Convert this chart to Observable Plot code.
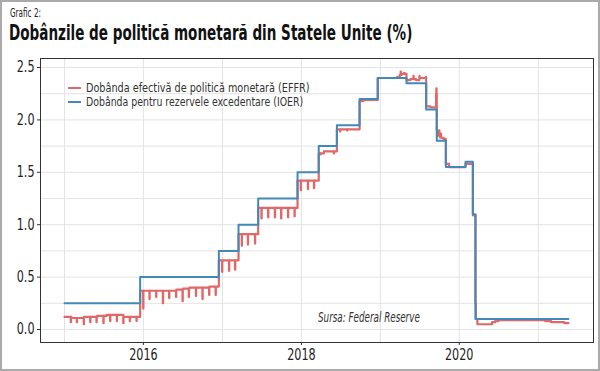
<!DOCTYPE html>
<html>
<head>
<meta charset="utf-8">
<script src="https://cdn.jsdelivr.net/npm/d3@7"></script>
<script src="https://cdn.jsdelivr.net/npm/@observablehq/plot@0.6"></script>
<style>
  body { margin: 0; background: #fff; }
  #wrap { position: relative; width: 600px; height: 371px; background: #fff; overflow: hidden;
    font-family: "DejaVu Sans Condensed", "DejaVu Sans", sans-serif; color: #222; }
  .abs { position: absolute; white-space: nowrap; transform-origin: 0 0; }
  #frame { position: absolute; left: 0; top: 0; width: 600px; height: 371px; box-sizing: border-box;
    border: 2px solid #aaa; pointer-events: none; }
  .sw { position: absolute; left: 68px; width: 13px; height: 2px; }
  .lg { font-size: 12px; line-height: 14px; height: 14px; color: #333; left: 86px; }
</style>
</head>
<body>
<div id="wrap">
  <div id="sup" class="abs" style="left:10px;top:5px;font-size:13px;line-height:16px;" data-w="31">Grafic 2:</div>
  <div id="title" class="abs" style="left:9px;top:21px;font-size:21px;line-height:25px;font-weight:bold;color:#111;" data-w="403">Dobânzile de politică monetară din Statele Unite (%)</div>
  <div id="chart" class="abs" style="left:0;top:50px;"></div>
  <div id="legend"></div>
  <div id="src" class="abs" style="left:318px;top:309px;font-size:13.7px;line-height:16px;font-style:italic;color:#333;" data-w="102">Sursa: Federal Reserve</div>
  <div id="frame"></div>
</div>
<script>
// ---- Data ----
const seriesNames = ["Dobânda efectivă de politică monetară (EFFR)", "Dobânda pentru rezervele excedentare (IOER)"];
const seriesColors = ["#e06868", "#4189b8"];

// IOER: date of change and new level
const ioerDates = ["2015-01-01","2015-12-17","2016-12-15","2017-03-16","2017-06-15","2017-12-14","2018-03-22","2018-06-14","2018-09-27","2018-12-20","2019-05-02","2019-08-01","2019-09-19","2019-10-31","2020-01-30","2020-03-04","2020-03-16","2021-05-20"];
const ioerValues = [0.25,0.50,0.75,1.00,1.25,1.50,1.75,1.95,2.20,2.40,2.35,2.10,1.80,1.55,1.60,1.10,0.10,0.10];

// EFFR: typical levels (start date, level)
const effrLevelDates = ["2015-01-01","2015-02-01","2015-04-01","2015-06-01","2015-07-15","2015-10-01","2015-12-17","2016-06-01","2016-07-01","2016-08-01","2016-11-01","2016-12-15","2017-03-16","2017-06-15","2017-12-14","2018-03-22","2018-04-15","2018-06-14","2018-09-27","2018-10-15","2018-12-20","2019-03-20","2019-04-01","2019-04-10","2019-05-02","2019-05-20","2019-06-15","2019-07-01","2019-08-01","2019-08-20","2019-09-19","2019-09-24","2019-10-05","2019-10-20","2019-10-31","2019-11-15","2020-01-30","2020-03-04","2020-03-16","2020-03-18","2020-03-25","2020-06-01","2020-06-15","2020-07-01","2021-02-01","2021-03-01","2021-05-01","2021-05-20"];
const effrLevels = [0.12,0.11,0.12,0.13,0.14,0.12,0.37,0.38,0.39,0.40,0.41,0.66,0.91,1.16,1.42,1.68,1.70,1.91,2.18,2.19,2.40,2.41,2.43,2.44,2.38,2.39,2.38,2.40,2.13,2.12,1.90,1.85,1.83,1.82,1.58,1.55,1.58,1.09,0.25,0.10,0.05,0.07,0.08,0.09,0.08,0.07,0.06,0.06];

// EFFR: one-day month-end dips / spikes (date, value)
const effrSpikeDates = ["2015-01-30","2015-02-27","2015-03-31","2015-04-30","2015-05-29","2015-06-30","2015-07-31","2015-08-31","2015-09-30","2015-10-30","2015-11-30","2015-12-31",
  "2016-01-29","2016-02-29","2016-03-31","2016-04-29","2016-05-31","2016-06-30","2016-07-29","2016-08-31","2016-09-30","2016-10-31","2016-11-30","2016-12-30",
  "2017-01-31","2017-02-28","2017-03-31","2017-04-28","2017-05-31","2017-06-30","2017-07-31","2017-08-31","2017-09-29","2017-10-31","2017-11-30","2017-12-29",
  "2018-01-31","2018-02-28","2018-03-29","2018-05-31","2018-06-29","2018-07-31",
  "2019-04-05","2019-04-22","2019-06-03","2019-07-01","2019-07-31","2019-09-16","2019-09-17","2019-09-18","2019-09-30","2019-10-01","2019-10-08"];
const effrSpikeValues = [0.07,0.07,0.05,0.07,0.07,0.06,0.08,0.08,0.06,0.08,0.08,0.20,
  0.29,0.31,0.25,0.30,0.31,0.27,0.31,0.32,0.29,0.33,0.33,0.55,
  0.56,0.57,0.80,0.81,0.82,1.06,1.07,1.07,1.06,1.07,1.08,1.33,
  1.34,1.35,1.67,1.68,1.89,1.90,
  2.46,2.45,2.42,2.42,2.41,2.25,2.30,2.25,1.90,1.88,1.87];

// Axis ticks and grid
const xTickLabels = ["2016","2018","2020"];
const xGridYears = ["2015","2016","2017","2018","2019","2020","2021"];
const yTickLabels = [0, 0.5, 1.0, 1.5, 2.0, 2.5];
const yGridValues = [0, 0.25, 0.5, 0.75, 1.0, 1.25, 1.5, 1.75, 2.0, 2.25, 2.5];

// ---- Build tables ----
const parse = d3.utcParse("%Y-%m-%d");
const ioer = ioerDates.map((d, i) => ({date: parse(d), value: ioerValues[i]}));

const levelPts = effrLevelDates.map((d, i) => ({date: parse(d), value: effrLevels[i]}));
function levelAt(t) {
  let v = levelPts[0].value;
  for (const p of levelPts) { if (+p.date <= +t) v = p.value; else break; }
  return v;
}
const effrMap = new Map();
levelPts.forEach(p => effrMap.set(+p.date, p.value));
const spikeSet = new Set();
effrSpikeDates.forEach((d, i) => { const t = +parse(d); effrMap.set(t, effrSpikeValues[i]); spikeSet.add(t); });
effrSpikeDates.forEach(d => {
  const next = +d3.utcDay.offset(parse(d), 1);
  if (!spikeSet.has(next) && !levelPts.some(p => +p.date === next)) effrMap.set(next, levelAt(new Date(next)));
});
const effr = Array.from(effrMap, ([t, v]) => ({date: new Date(t), value: v})).sort((a, b) => a.date - b.date);

const font = '"DejaVu Sans Condensed", "DejaVu Sans", sans-serif';

const chart = Plot.plot({
  width: 600,
  height: 321,
  marginTop: 8,
  marginBottom: 29,
  marginLeft: 40,
  marginRight: 7,
  style: {fontFamily: font, fontSize: "15px", color: "#222", background: "transparent"},
  x: {type: "utc", domain: [parse("2014-09-12"), parse("2021-09-13")]},
  y: {domain: [-0.124, 2.586]},
  marks: [
    Plot.gridX(xGridYears.map(y => parse(y + "-01-01")), {stroke: "#e3e3e3", strokeOpacity: 1}),
    Plot.gridY(yGridValues, {stroke: "#e3e3e3", strokeOpacity: 1}),
    Plot.line(effr, {x: "date", y: "value", stroke: seriesColors[0], strokeWidth: 2.2, curve: "step-after"}),
    Plot.line(ioer, {x: "date", y: "value", stroke: seriesColors[1], strokeWidth: 2, curve: "step-after"}),
    Plot.frame({stroke: "#333", strokeWidth: 1}),
    Plot.axisX(xTickLabels.map(y => parse(y + "-01-01")), {tickSize: 3, tickPadding: 4, tickFormat: d3.utcFormat("%Y"), label: null, stroke: "#333", fontSize: 15}),
    Plot.axisY(yTickLabels, {tickSize: 3, tickPadding: 3, tickFormat: d => d.toFixed(1), label: null, stroke: "#333", fontSize: 15})
  ]
});
document.getElementById("chart").appendChild(chart);

// condense tick labels to match the narrow typeface of the reference
chart.querySelectorAll('g[aria-label$="tick label"] text').forEach(t => {
  const L = t.getComputedTextLength();
  t.setAttribute("textLength", (L * 0.83).toFixed(1));
  t.setAttribute("lengthAdjust", "spacingAndGlyphs");
});

// legend
const legend = document.getElementById("legend");
const rowTops = [81.2, 95.2];
seriesNames.forEach((n, i) => {
  const sw = document.createElement("div");
  sw.className = "sw";
  sw.style.top = (rowTops[i] + 5.5) + "px";
  sw.style.background = seriesColors[i];
  legend.appendChild(sw);
  const tx = document.createElement("div");
  tx.className = "abs lg";
  tx.style.top = rowTops[i] + "px";
  tx.dataset.w = i === 0 ? "224" : "217";
  tx.textContent = n;
  legend.appendChild(tx);
});

// fit condensed widths
document.querySelectorAll("[data-w]").forEach(el => {
  const w = el.offsetWidth;
  el.style.transform = `scaleX(${(+el.dataset.w / w).toFixed(4)})`;
});
</script>
</body>
</html>
